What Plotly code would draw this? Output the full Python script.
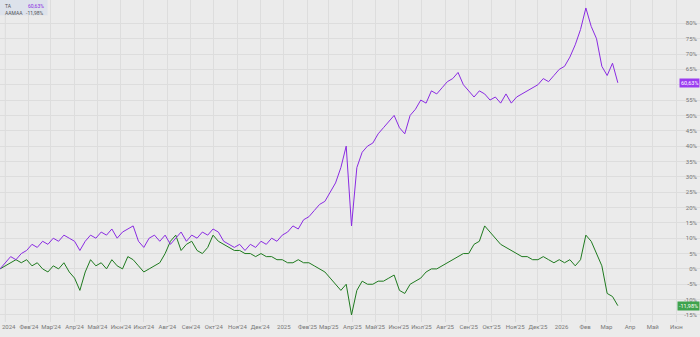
import pandas as pd
import plotly.graph_objects as go

# weekly sampling dates
dates = pd.date_range("2023-12-25", periods=117, freq="7D")

ta_values = [0, 2, 4, 3, 5, 6, 8, 7, 9, 8, 10, 9, 11, 10, 9, 6, 9, 11, 10, 12,
             11, 13, 10, 12, 13, 14, 9, 7, 10, 11, 9, 11, 8, 10, 12, 9, 11, 10, 12, 11,
             13, 12, 9, 8, 7, 8, 6, 8, 7, 9, 8, 10, 9, 11, 12, 14, 13, 16, 17, 19,
             21, 22, 25, 28, 33, 40, 14, 33, 38, 40, 41, 44, 46, 48, 50, 46, 44, 50, 52, 55,
             54, 58, 57, 59, 61, 62, 64, 60, 58, 56, 58, 57, 55, 56, 54, 57, 54, 56, 57, 58,
             59, 60, 62, 61, 63, 65, 66, 69, 73, 78, 85, 79, 75, 66, 63, 67, 60.63]

ab_values = [0, 1, 2, 3, 2, 3, 1, 2, 0, -1, 1, 0, 2, -1, -3, -7, -1, 3, 1, 2,
             0, 3, 1, 0, 4, 3, 1, -1, 0, 1, 2, 5, 9, 11, 6, 8, 9, 6, 5, 7,
             11, 9, 8, 7, 6, 6, 5, 5, 4, 5, 4, 4, 3, 3, 2, 2, 3, 2, 2, 1,
             0, -1, -3, -5, -7, -5, -15, -7, -4, -5, -5, -4, -4, -3, -2, -7, -8, -5, -4, -3,
             -1, 0, 0, 1, 2, 3, 4, 5, 5, 8, 9, 14, 12, 10, 8, 7, 6, 5, 4, 4,
             3, 3, 4, 3, 2, 3, 2, 3, 1, 3, 11, 9, 5, 1, -8, -9, -11.98]

series_names = ["TA", "AAMAA"]
last_labels = ["60,63%", "-11,98%"]

tick_dates = ["2024-02-01", "2024-03-01", "2024-04-01", "2024-05-01", "2024-06-01",
              "2024-07-01", "2024-08-01", "2024-09-01", "2024-10-01", "2024-11-01", "2024-12-01",
              "2025-01-01", "2025-02-01", "2025-03-01", "2025-04-01", "2025-05-01", "2025-06-01",
              "2025-07-01", "2025-08-01", "2025-09-01", "2025-10-01", "2025-11-01", "2025-12-01",
              "2026-01-01", "2026-02-01", "2026-03-01", "2026-04-01", "2026-05-01", "2026-06-01"]
tick_text = ["Фев'24", "Мар'24", "Апр'24", "Май'24", "Июн'24", "Июл'24", "Авг'24",
             "Сен'24", "Окт'24", "Ноя'24", "Дек'24", "2025", "Фев'25", "Мар'25", "Апр'25",
             "Май'25", "Июн'25", "Июл'25", "Авг'25", "Сен'25", "Окт'25", "Ноя'25", "Дек'25",
             "2026", "Фев", "Мар", "Апр", "Май", "Июн"]
first_tick_date = "2024-01-01"
first_tick_text = "2024"
y_ticks = list(range(-15, 85, 5))

PURPLE = "#8a2be2"
GREEN = "#1f7a1f"
LABEL_GREEN = "#3fa34d"
LABEL_PURPLE = "#9b3cf0"

fig = go.Figure()
fig.add_trace(go.Scatter(x=dates, y=ab_values, mode="lines", name=series_names[1],
                         line=dict(color=GREEN, width=1)))
fig.add_trace(go.Scatter(x=dates, y=ta_values, mode="lines", name=series_names[0],
                         line=dict(color=PURPLE, width=1)))

fig.update_layout(
    width=700, height=337,
    margin=dict(l=0, r=0, t=0, b=15),
    paper_bgcolor="#ebebeb", plot_bgcolor="#ebebeb",
    showlegend=False,
    font=dict(family="Roboto, DejaVu Sans, sans-serif", size=6, color="#777777"),
)
fig.update_xaxes(
    range=["2023-12-25", "2026-07-02"],
    tickvals=tick_dates, ticktext=tick_text, tickangle=0,
    showgrid=True, gridcolor="#dddddd", gridwidth=1,
    zeroline=False, showline=False, ticks="",
    tickfont=dict(size=6, color="#777777"),
)
fig.update_yaxes(
    range=[-17.3, 87.6], side="right",
    tickvals=y_ticks,
    ticktext=["" if v == 60 else f"{v}%" for v in y_ticks],
    ticklabelposition="inside",
    showgrid=True, gridcolor="#dddddd", gridwidth=1,
    zeroline=False, showline=False, ticks="",
    tickfont=dict(size=6, color="#777777"),
)

# first x tick ("2024") at the very left edge, with its grid line
fig.add_shape(type="line", xref="x", yref="paper", x0=first_tick_date, x1=first_tick_date,
              y0=0, y1=1, line=dict(color="#dddddd", width=1), layer="below")
fig.add_annotation(x=0, xref="paper", xanchor="left", y=-0.0135, yref="paper", yanchor="middle",
                   text=first_tick_text, showarrow=False,
                   font=dict(size=6, color="#777777"))

# last value labels on price scale
for val, txt, col in [(ta_values[-1], last_labels[0], LABEL_PURPLE),
                      (ab_values[-1], last_labels[1], LABEL_GREEN)]:
    fig.add_annotation(x=1, xref="paper", xanchor="right", y=val, yref="y",
                       text=txt, showarrow=False, bgcolor=col,
                       font=dict(size=5.5, color="white"), borderpad=1)

# legend box top-left
fig.add_shape(type="rect", xref="paper", yref="paper", x0=0, x1=0.068, y0=0.953, y1=1.0,
              fillcolor="rgba(220,225,235,0.9)", line=dict(width=0))
fig.add_annotation(x=0.004, y=0.998, xref="paper", yref="paper", xanchor="left", yanchor="top",
                   text=series_names[0], showarrow=False, font=dict(size=5, color="#555555"))
fig.add_annotation(x=0.065, y=0.998, xref="paper", yref="paper", xanchor="right", yanchor="top",
                   text=last_labels[0], showarrow=False, font=dict(size=5, color=PURPLE))
fig.add_annotation(x=0.004, y=0.975, xref="paper", yref="paper", xanchor="left", yanchor="top",
                   text=series_names[1], showarrow=False, font=dict(size=5, color="#555555"))
fig.add_annotation(x=0.065, y=0.975, xref="paper", yref="paper", xanchor="right", yanchor="top",
                   text=last_labels[1], showarrow=False, font=dict(size=5, color="#555555"))

fig.write_html("out.html")
